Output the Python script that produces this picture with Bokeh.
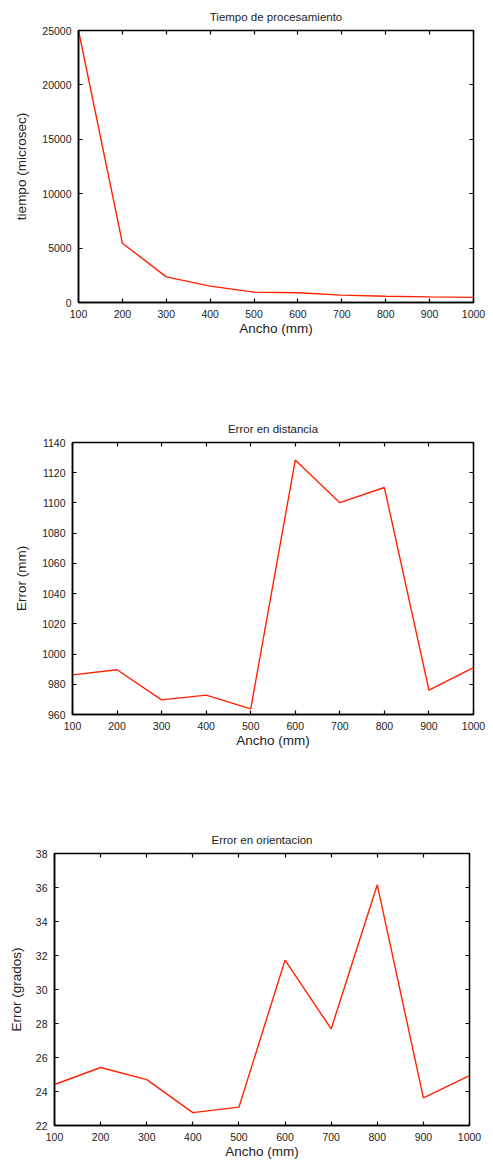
from bokeh.plotting import figure
from bokeh.models import LinearAxis, FixedTicker, Range1d
from bokeh.embed import file_html
from bokeh.resources import INLINE

ancho = [100, 200, 300, 400, 500, 600, 700, 800, 900, 1000]
tiempo = [25000, 5450, 2360, 1500, 950, 890, 680, 580, 520, 470]
error_dist = [986.2, 989.6, 969.7, 972.8, 963.7, 1128.4, 1100.2, 1110.2, 976.1, 991.1]
error_orient = [24.41, 25.41, 24.70, 22.76, 23.08, 31.73, 27.68, 36.16, 23.63, 24.94]

x_ticks = [100, 200, 300, 400, 500, 600, 700, 800, 900, 1000]
y1_ticks = [0, 5000, 10000, 15000, 20000, 25000]
y2_ticks = [960, 980, 1000, 1020, 1040, 1060, 1080, 1100, 1120, 1140]
y3_ticks = [22, 24, 26, 28, 30, 32, 34, 36, 38]

FONT = "Liberation Sans"
RED = "#ff2200"
TXT = "#222222"


def make_plot(title, ylabel, y, yr, yticks, left, fw, right, top, fh, bottom, ylab_standoff):
    p = figure(
        frame_width=fw, frame_height=fh,
        min_border_left=left, min_border_right=right,
        min_border_top=top, min_border_bottom=bottom,
        x_range=Range1d(100, 1000), y_range=Range1d(*yr),
        output_backend="svg", toolbar_location=None,
        x_axis_label="Ancho (mm)", y_axis_label=ylabel,
    )
    p.title.text = title
    p.title.align = "center"
    p.title.text_font = FONT
    p.title.text_font_size = "11.5px"
    p.title.text_font_style = "normal"
    p.title.text_color = TXT
    p.title.standoff = 15
    p.grid.visible = False
    p.outline_line_color = "black"
    p.outline_line_width = 1.5
    p.outline_line_alpha = 1.0
    p.background_fill_color = "white"
    p.border_fill_color = "white"

    p.xaxis.ticker = FixedTicker(ticks=x_ticks)
    p.yaxis.ticker = FixedTicker(ticks=yticks)
    for ax in (p.xaxis[0], p.yaxis[0]):
        ax.axis_line_color = "black"
        ax.axis_line_width = 1.5
        ax.major_tick_in = 4
        ax.major_tick_out = 0
        ax.major_tick_line_width = 1.2
        ax.minor_tick_line_color = None
        ax.major_label_text_font = FONT
        ax.major_label_text_font_size = "10.5px"
        ax.major_label_text_color = TXT
        ax.major_label_standoff = 7
        ax.axis_label_text_font = FONT
        ax.axis_label_text_font_size = "13.5px"
        ax.axis_label_text_font_style = "normal"
        ax.axis_label_text_color = TXT
    p.xaxis[0].axis_label_standoff = 0
    p.yaxis[0].axis_label_standoff = ylab_standoff

    # mirror ticks on top and right
    top_ax = LinearAxis(ticker=FixedTicker(ticks=x_ticks))
    right_ax = LinearAxis(ticker=FixedTicker(ticks=yticks))
    for ax in (top_ax, right_ax):
        ax.major_label_text_font_size = "0px"
        ax.major_label_text_alpha = 0
        ax.major_label_standoff = 0
        ax.axis_line_color = None
        ax.major_tick_in = 4
        ax.major_tick_out = 0
        ax.major_tick_line_width = 1.2
        ax.minor_tick_line_color = None
    p.add_layout(top_ax, "above")
    p.add_layout(right_ax, "right")

    p.line(ancho, y, line_color=RED, line_width=1.4)
    return p


p1 = make_plot("Tiempo de procesamiento", "tiempo (microsec)", tiempo, (0, 25000), y1_ticks,
               78, 395, 20, 30, 272, 108, 10)
p2 = make_plot("Error en distancia", "Error (mm)", error_dist, (960, 1140), y2_ticks,
               72, 401, 20, 32, 272, 106, 10)
p3 = make_plot("Error en orientacion", "Error (grados)", error_orient, (22, 38), y3_ticks,
               54, 415, 24, 33, 272, 34, 9)

open("out.html", "w").write(file_html([p1, p2, p3], INLINE))
